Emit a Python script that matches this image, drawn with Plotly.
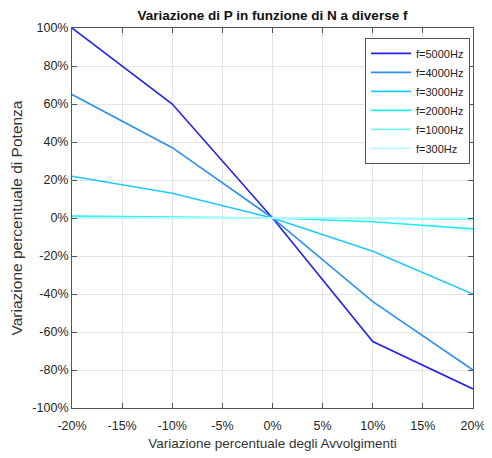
import plotly.graph_objects as go

x_vals = [-20, -10, 0, 10, 20]
labels = ["f=5000Hz", "f=4000Hz", "f=3000Hz", "f=2000Hz", "f=1000Hz", "f=300Hz"]
series = [
    [100, 60, 0, -65, -90],
    [65, 37, 0, -44, -80],
    [22, 13, 0, -17.5, -40],
    [1.0, 0.5, 0, -2.0, -5.7],
    [0.4, 0.2, 0, -0.3, -0.8],
    [0.05, 0.02, 0, -0.02, -0.05],
]
colors = ["#2222ee", "#2b8ff5", "#1ecaf7", "#22eef2", "#77f2f2", "#b5fafa"]

x_ticks = [-20, -15, -10, -5, 0, 5, 10, 15, 20]
x_ticktext = ["-20%", "-15%", "-10%", "-5%", "0%", "5%", "10%", "15%", "20%"]
y_ticks = [-100, -80, -60, -40, -20, 0, 20, 40, 60, 80, 100]
y_ticktext = ["-100%", "-80%", "-60%", "-40%", "-20%", "0%", "20%", "40%", "60%", "80%", "100%"]

fig = go.Figure()
for lab, ys, c in zip(labels, series, colors):
    fig.add_trace(go.Scatter(x=x_vals, y=ys, mode="lines", name=lab,
                             line=dict(color=c, width=1.6)))

axis_common = dict(showgrid=True, gridcolor="#e3e3e3", gridwidth=1,
                   showline=True, linecolor="#555555", linewidth=1, mirror="ticks",
                   ticks="inside", ticklen=5, tickcolor="#555555", automargin=False,
                   zeroline=False, tickfont=dict(size=12.5, color="#262626",
                                                 family="Liberation Sans, Arial"))
fig.update_xaxes(range=[-20, 20], tickmode="array", tickvals=x_ticks, ticktext=x_ticktext,
                 ticklabelstandoff=6,
                 title=dict(text="Variazione percentuale degli Avvolgimenti",
                            font=dict(size=13.5, color="#333333"), standoff=6),
                 **axis_common)
fig.update_yaxes(range=[-100, 100], tickmode="array", tickvals=y_ticks, ticktext=y_ticktext,
                 title=dict(text="Variazione percentuale di Potenza",
                            font=dict(size=15.5, color="#333333"), standoff=14),
                 **axis_common)

fig.update_layout(
    width=484, height=450,
    margin=dict(l=64, r=19, t=20, b=50),
    paper_bgcolor="white", plot_bgcolor="white",
    font=dict(family="Liberation Sans, Arial", color="#222222"),
    title=dict(text="<b>Variazione di P in funzione di N a diverse f</b>",
               x=0.5, xref="paper", xanchor="center",
               y=1 - 7 / 450, yref="container", yanchor="middle",
               font=dict(size=13.5, color="#111111")),
    showlegend=True,
    legend=dict(x=0.9925, y=0.974, xanchor="right", yanchor="top",
                bgcolor="white", bordercolor="#555555", borderwidth=1,
                font=dict(size=11, color="#222222"), tracegroupgap=0,
                itemwidth=40),
)

fig.write_html("out.html")
